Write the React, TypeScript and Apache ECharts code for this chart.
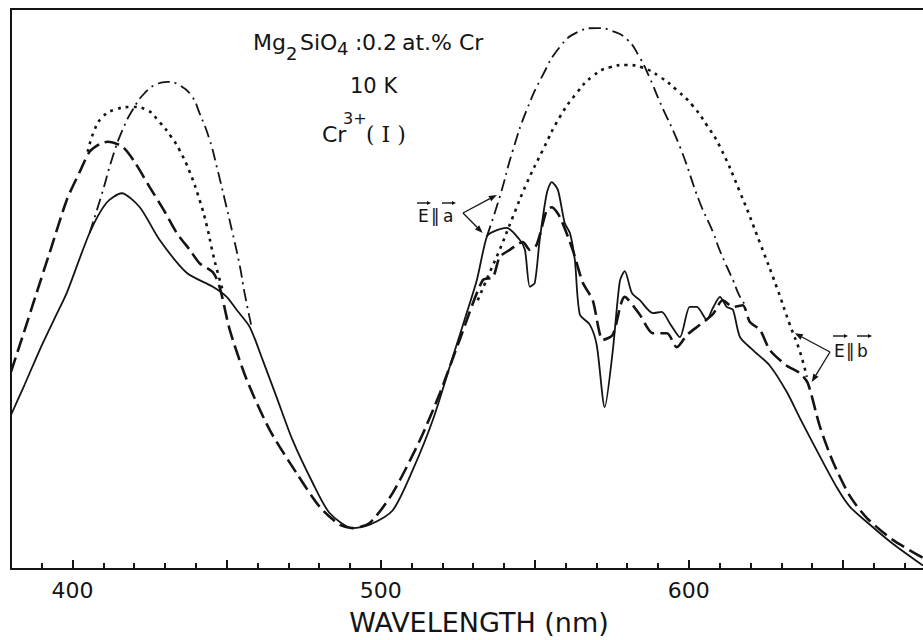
import React, { useEffect, useRef } from "react";
import * as echarts from "echarts";

// ---- data (wavelength nm, relative absorbance 0-100) ----
const solidEa: number[][] = [
  [380, 27.5], [384.4, 32.9], [389.3, 39.1], [394.2, 44.8], [398.1, 49.3], [405.5, 60.0],
  [411.0, 65.4], [415.9, 67.1], [421.8, 64.6], [428.2, 58.8], [437.0, 52.9], [445.5, 50.4],
  [450.0, 48.6], [453.2, 46.3], [457.5, 43.2], [461.7, 37.3], [466.2, 30.7], [471.4, 23.0],
  [477.9, 15.4], [483.4, 10.0], [490.9, 7.3], [496.4, 7.9], [503.9, 10.5], [510.4, 17.7],
  [516.9, 26.6], [523.4, 37.9], [527.9, 45.7], [531.2, 51.6], [534.4, 59.3], [536.4, 60.2],
  [540.9, 60.9], [545.1, 58.8], [546.8, 57.0], [548.4, 50.4], [550.0, 51.1], [551.6, 58.8],
  [553.9, 67.1], [555.5, 69.1], [557.5, 67.7], [559.7, 61.8], [561.4, 60.0], [563.0, 55.2],
  [564.6, 45.5], [567.9, 43.6], [570.1, 40.0], [572.7, 28.9], [575.3, 38.9], [577.6, 51.4],
  [579.2, 53.2], [581.5, 49.3], [584.1, 48.0], [588.3, 45.7], [591.2, 45.9], [593.8, 43.9],
  [597.1, 41.4], [600.3, 46.8], [602.6, 46.8], [605.8, 44.5], [607.8, 46.6], [610.1, 48.6],
  [612.3, 46.8], [614.3, 46.3], [616.6, 41.4], [620.8, 39.1], [626.3, 36.3], [631.8, 31.6],
  [636.0, 27.0], [641.6, 21.1], [648.1, 14.5], [652.3, 11.1], [658.8, 7.9], [666.2, 4.5],
  [676.0, 0.6],
];

const dashedEb: number[][] = [
  [380, 35.2], [384.1, 42.1], [388.3, 49.3], [392.5, 56.4], [398.1, 65.9], [402.3, 70.9],
  [405.5, 74.5], [408.8, 75.9], [411.4, 76.3], [416.2, 75.4], [420.1, 72.7], [425.0, 68.2],
  [429.9, 63.8], [433.8, 60.0], [438.0, 57.0], [441.2, 54.6], [445.5, 53.0], [447.7, 50.4],
  [451.0, 42.7], [456.5, 33.8], [464.0, 24.8], [472.7, 17.1], [480.2, 11.1], [486.7, 7.9],
  [490.9, 7.3], [496.4, 8.2], [503.9, 13.6], [512.7, 23.0], [519.2, 31.4], [525.6, 40.9],
  [533.1, 51.6], [536.4, 52.1], [538.6, 55.7], [541.9, 57.0], [546.1, 58.4], [548.4, 57.0],
  [550.6, 57.9], [553.9, 64.1], [555.5, 64.6], [558.1, 62.9], [562.3, 57.0], [565.6, 51.1],
  [568.8, 48.0], [572.1, 40.9], [575.3, 41.8], [579.2, 48.6], [584.1, 45.4], [588.3, 42.1],
  [592.9, 42.1], [596.1, 39.6], [599.4, 41.8], [603.6, 43.6], [607.8, 45.5], [611.0, 48.0],
  [614.3, 46.8], [617.5, 47.1], [619.8, 44.1], [623.1, 42.7], [626.3, 39.1], [631.8, 36.3],
  [636.0, 35.0], [638.6, 33.2], [642.5, 25.5], [646.8, 19.1], [652.3, 13.0], [657.8, 9.1],
  [666.2, 5.2], [676.0, 2.0],
];

const dashDotEaBand1: number[][] = [
  [405.5, 60.0], [409.4, 66.8], [413.0, 73.6], [416.2, 78.4], [419.5, 82.0], [423.4, 85.0],
  [427.3, 86.6], [430.8, 87.0], [434.7, 86.4], [438.6, 84.5], [441.2, 81.4], [444.5, 76.6],
  [446.8, 71.8], [449.4, 65.9], [451.9, 60.0], [454.2, 54.3], [455.8, 49.3], [458.1, 43.2],
];

const dashDotEaBand2: number[][] = [
  [534.4, 59.3], [538.6, 66.4], [542.9, 74.8], [547.4, 82.0], [552.6, 88.2], [558.1, 93.2],
  [564.0, 95.9], [570.1, 96.6], [575.0, 96.1], [579.9, 94.6], [584.1, 91.3], [587.3, 87.7],
  [590.6, 83.4], [597.1, 75.4], [603.6, 65.4], [607.8, 60.2], [610.1, 56.8], [614.3, 51.6],
  [616.6, 48.6], [618.8, 46.8],
];

const dottedEbBand1: number[][] = [
  [404.9, 74.5], [407.1, 78.4], [409.7, 80.7], [413.6, 82.0], [419.5, 82.5], [424.0, 82.0],
  [428.2, 79.8], [432.1, 77.1], [434.7, 74.8], [438.0, 70.9], [441.2, 65.9], [443.5, 61.4],
  [445.5, 56.4], [447.1, 52.9], [448.7, 49.8],
];

const dottedEbBand2: number[][] = [
  [531.5, 48.0], [535.4, 53.0], [538.6, 57.0], [542.9, 62.9], [547.4, 68.9], [552.6, 74.8],
  [558.1, 80.7], [563.6, 85.0], [568.8, 88.0], [574.4, 89.6], [579.9, 90.0], [585.1, 89.5],
  [590.6, 87.9], [596.1, 85.5], [601.3, 82.7], [605.8, 79.3], [610.1, 75.4], [616.6, 67.3],
  [623.1, 58.2], [628.6, 50.2], [632.8, 43.6], [636.0, 38.9], [638.3, 34.3],
];

const majorTicks = [400, 450, 500, 550, 600, 650];
const tickLabels = [400, 500, 600];
const MAJOR_TICK_LEN = 1.6; // in y data units (~9 px)

// annotation arrow tips in data coordinates
const eaTips = [[537.7, 66.8], [533.1, 60.0]];
const ebTips = [[634.4, 42.1], [639.9, 33.4]];

const X_MIN = 380;
const X_MAX = 676;

const SANS = "'DejaVu Sans', sans-serif";
const SERIF = "'DejaVu Serif', serif";
const INK = "#141414";

function txt(text: string, x: number, baseline: number, size: number, family = SANS) {
  return {
    type: "text",
    x,
    y: baseline - 0.35 * size,
    silent: true,
    style: {
      text,
      fill: INK,
      font: `${size}px ${family}`,
      align: "left",
      verticalAlign: "middle",
      textAlign: "left",
      textVerticalAlign: "middle",
    },
  };
}

function arrow(x1: number, y1: number, x2: number, y2: number, head = 8, half = 3, lw = 1.3) {
  const dx = x2 - x1;
  const dy = y2 - y1;
  const len = Math.sqrt(dx * dx + dy * dy) || 1;
  const ux = dx / len;
  const uy = dy / len;
  const bx = x2 - ux * head;
  const by = y2 - uy * head;
  return [
    { type: "line", silent: true, shape: { x1, y1, x2: bx, y2: by }, style: { stroke: INK, lineWidth: lw } },
    {
      type: "polygon",
      silent: true,
      shape: { points: [[x2, y2], [bx - uy * half, by + ux * half], [bx + uy * half, by - ux * half]] },
      style: { fill: INK },
    },
  ];
}

function lineSeries(data: number[][], type: any, width: number, smooth: number, extra: any = {}) {
  return {
    type: "line",
    data,
    showSymbol: false,
    symbol: "none",
    smooth,
    lineStyle: { color: INK, width, type, cap: "butt" },
    silent: true,
    ...extra,
  };
}

export default function App() {
  const ref = useRef<HTMLDivElement>(null);

  useEffect(() => {
    if (!ref.current) return;
    const chart = echarts.init(ref.current, undefined, { renderer: "svg" });
    chart.setOption({
      animation: false,
      backgroundColor: "#ffffff",
      grid: { left: 11, right: 0, top: 9, bottom: 71, containLabel: false },
      xAxis: [
        {
          type: "value",
          min: X_MIN,
          max: X_MAX,
          interval: 10,
          position: "bottom",
          splitLine: { show: false },
          axisLine: { show: true, lineStyle: { color: INK, width: 2 } },
          axisTick: { show: true, inside: true, length: 6, lineStyle: { color: INK, width: 2 } },
          axisLabel: {
            show: true,
            margin: 10,
            color: INK,
            fontSize: 22,
            fontFamily: SANS,
            showMinLabel: false,
            showMaxLabel: false,
            formatter: (v: number) => (tickLabels.indexOf(Math.round(v)) >= 0 ? String(Math.round(v)) : ""),
          },
        },
        {
          type: "value",
          min: X_MIN,
          max: X_MAX,
          position: "top",
          splitLine: { show: false },
          axisLine: { show: true, lineStyle: { color: INK, width: 2 } },
          axisTick: { show: false },
          axisLabel: { show: false },
        },
      ],
      yAxis: {
        type: "value",
        min: 0,
        max: 100,
        axisLine: { show: true, lineStyle: { color: INK, width: 2 } },
        axisTick: { show: false },
        axisLabel: { show: false },
        splitLine: { show: false },
      },
      series: [
        lineSeries(solidEa, "solid", 1.8, 0.25, {
          markLine: {
            silent: true,
            symbol: ["none", "none"],
            label: { show: false },
            lineStyle: { color: INK, width: 2, type: "solid" },
            data: majorTicks.map((v) => [{ coord: [v, 0] }, { coord: [v, MAJOR_TICK_LEN] }]),
          },
        }),
        lineSeries(dashedEb, [15, 6], 2.6, 0.25),
        lineSeries(dashDotEaBand1, [12, 5, 2, 5], 1.8, 0.5),
        lineSeries(dashDotEaBand2, [12, 5, 2, 5], 1.8, 0.5),
        lineSeries(dottedEbBand1, [3, 5], 2.6, 0.5),
        lineSeries(dottedEbBand2, [3, 5], 2.6, 0.5),
      ],
    });

    const px = (p: number[]) => chart.convertToPixel({ xAxisIndex: 0, yAxisIndex: 0 }, p) as number[];
    const eaT = eaTips.map(px);
    const ebT = ebTips.map(px);

    const graphics: any[] = [
      // title lines
      txt("Mg", 253, 50, 22),
      txt("2", 286, 60, 18),
      txt("SiO", 300, 50, 22),
      txt("4", 337, 55, 18),
      txt(":", 355, 50, 22),
      txt("0.2", 362, 50, 22),
      txt("at.", 402, 50, 22),
      txt("%", 431, 50, 22),
      txt("Cr", 459, 50, 22),
      txt("10 K", 350, 93, 21),
      txt("Cr", 322, 142, 22),
      txt("3+", 343, 124, 16),
      txt("( I )", 366, 142, 22, SERIF),
      // E || a
      txt("E", 418, 222, 17),
      txt("\u2016", 431, 222, 17),
      txt("a", 443, 222, 17),
      ...arrow(417, 203, 431, 203, 4, 2, 1.4),
      ...arrow(442, 203, 456, 203, 4, 2, 1.4),
      ...arrow(463, 213, eaT[0][0], eaT[0][1]),
      ...arrow(463, 213, eaT[1][0], eaT[1][1]),
      // E || b
      txt("E", 834, 357, 17),
      txt("\u2016", 846, 357, 17),
      txt("b", 857, 357, 17),
      ...arrow(833, 336, 848, 336, 4, 2, 1.4),
      ...arrow(857, 336, 872, 336, 4, 2, 1.4),
      ...arrow(830, 352, ebT[0][0], ebT[0][1]),
      ...arrow(830, 352, ebT[1][0], ebT[1][1]),
      // axis title
      {
        type: "text",
        x: 479,
        y: 622,
        silent: true,
        style: {
          text: "WAVELENGTH (nm)",
          fill: INK,
          font: `27px ${SANS}`,
          align: "center",
          verticalAlign: "middle",
          textAlign: "center",
          textVerticalAlign: "middle",
        },
      },
    ];
    chart.setOption({ graphic: graphics });

    return () => chart.dispose();
  }, []);

  return (
    <div
      ref={ref}
      style={{ position: "absolute", left: 0, top: 0, width: 923, height: 640, background: "#fff" }}
    />
  );
}
